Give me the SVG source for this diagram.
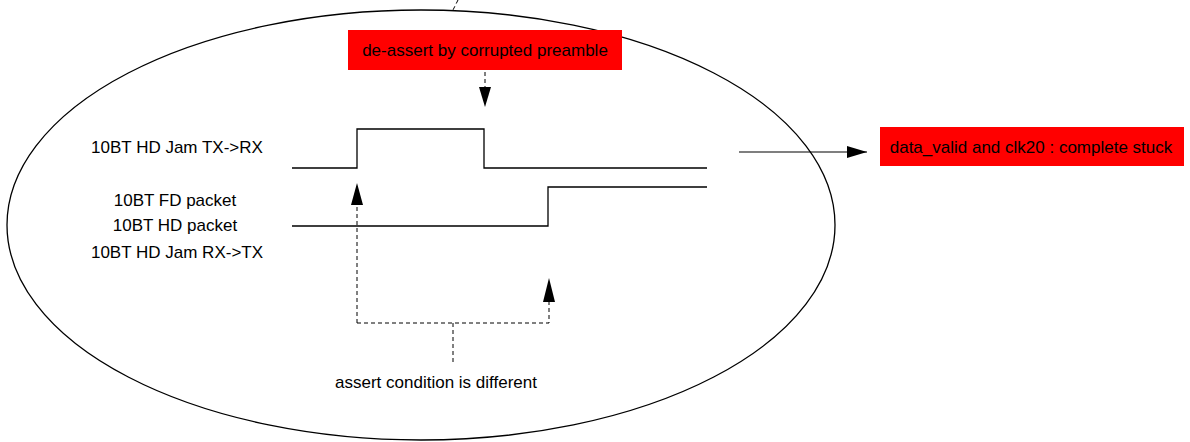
<svg xmlns="http://www.w3.org/2000/svg" width="1190" height="442" viewBox="0 0 1190 442">
<style>
text{font-family:"Liberation Sans",Arial,sans-serif;font-size:17px;fill:#000}
.mid{text-anchor:middle}
.sig{fill:none;stroke:#000;stroke-width:1.3}
.dash{fill:none;stroke:#000;stroke-width:1;stroke-dasharray:4,3}
.solid{fill:none;stroke:#000;stroke-width:1.2}
.red{fill:#ff0000}
</style>
<defs>
<marker id="ah" viewBox="0 0 20 12" refX="20" refY="6" markerWidth="20" markerHeight="12" markerUnits="userSpaceOnUse" orient="auto">
<path d="M0,0 L20,6 L0,12 Z" fill="#000"/>
</marker>
</defs>
<rect width="1190" height="442" fill="#fff"/>
<g id="boundary">
<ellipse cx="421" cy="225" rx="414" ry="215" fill="none" stroke="#000" stroke-width="1.3"/>
<line x1="458" y1="0" x2="453" y2="10" class="dash"/>
</g>
<g id="label-deassert">
<rect class="red" x="348" y="30" width="274" height="40"/>
<text class="mid" x="485" y="56">de-assert by corrupted preamble</text>
</g>
<g id="label-stuck">
<rect class="red" x="880" y="127" width="304" height="39"/>
<text class="mid" x="1031" y="153">data_valid and clk20 : complete stuck</text>
</g>
<g id="signal-labels">
<text class="mid" x="177" y="153">10BT HD Jam TX-&gt;RX</text>
<text class="mid" x="175" y="206">10BT FD packet</text>
<text class="mid" x="175" y="231">10BT HD packet</text>
<text class="mid" x="177" y="258">10BT HD Jam RX-&gt;TX</text>
</g>
<g id="signal-1">
<polyline class="sig" points="292,168 357,168 357,129 484,129 484,168 707,168"/>
</g>
<g id="signal-2">
<polyline class="sig" points="292,226 548,226 548,187 707,187"/>
</g>
<g id="label-assert">
<text class="mid" x="436" y="388">assert condition is different</text>
</g>
<g id="connectors">
<line class="dash" x1="485" y1="72" x2="485" y2="107" marker-end="url(#ah)"/>
<polyline class="dash" points="357,323 357,183"/>
<path d="M357,183 L351,205 L363,205 Z" fill="#000"/>
<polyline class="dash" points="357,323 549,323 549,302"/>
<path d="M549,278 L543,302 L555,302 Z" fill="#000"/>
<line class="dash" x1="453" y1="323" x2="453" y2="362"/>
<line class="solid" x1="739" y1="152" x2="867" y2="152" marker-end="url(#ah)"/>
</g>
</svg>
